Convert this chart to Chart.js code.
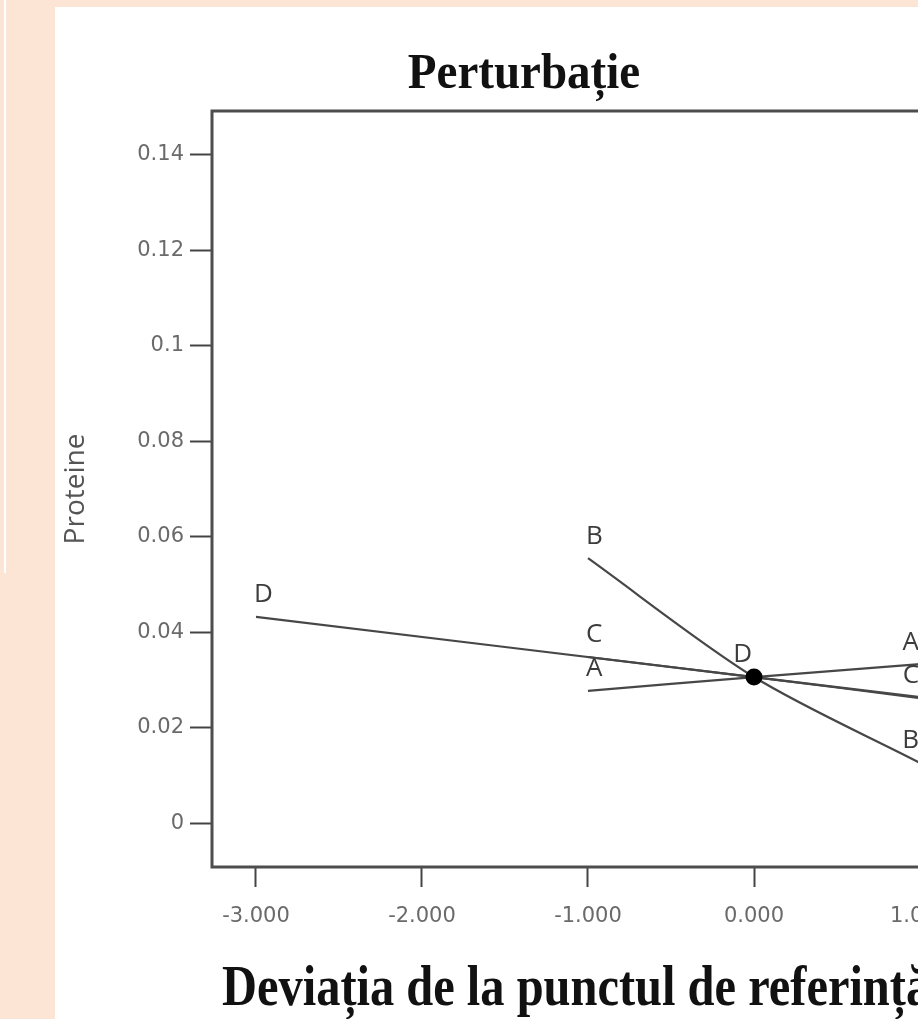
<!DOCTYPE html>
<html lang="ro">
<head>
<meta charset="utf-8">
<title>Perturbație</title>
<script src="https://cdn.jsdelivr.net/npm/chart.js@4/dist/chart.umd.min.js"></script>
<style>
    html, body { margin: 0; padding: 0; overflow: hidden; background: #fde5d6; }
    body { width: 918px; height: 1019px; position: relative; }
    #edge { position: absolute; left: 4px; top: 0; width: 2px; height: 573px; background: #fff; }
    #panel { position: absolute; left: 55px; top: 7px; width: 1400px; height: 1100px; background: #fff; }
    #wrap { position: absolute; left: 0; top: 0; width: 1340px; height: 1019px; }
</style>
</head>
<body>
<div id="edge"></div>
<div id="panel"></div>
<div id="wrap"><canvas id="chart" width="1340" height="1019"></canvas></div>
<script>
// Perturbation plot - Proteine vs deviation from the reference point

const factorNames = ['A', 'B', 'C', 'D'];
const devA = [-1, 0, 1];
const protA = [0.0277, 0.0306, 0.0333];
const devB = [-1, 0, 1];
const protB = [0.0555, 0.0306, 0.0126];
const devC = [-1, 0, 1];
const protC = [0.0348, 0.0306, 0.0262];
const devD = [-3, 0, 3];
const protD = [0.0432, 0.0306, 0.0180];
const refDev = [0];
const refProt = [0.0306];

const xTicks = [-3, -2, -1, 0, 1, 2, 3];
const xTickLabels = ['-3.000', '-2.000', '-1.000', '0.000', '1.000', '2.000', '3.000'];
const yTicks = [0, 0.02, 0.04, 0.06, 0.08, 0.1, 0.12, 0.14];
const yTickLabels = ['0', '0.02', '0.04', '0.06', '0.08', '0.1', '0.12', '0.14'];

const chartTitle = 'Perturbație';
const xTitle = 'Deviația de la punctul de referință';
const yTitle = 'Proteine';

const lineColor = '#474747';
const textColor = '#3c3c3c';

function toPoints(xs, ys) {
    return xs.map((x, i) => ({ x: x, y: ys[i] }));
}

function lineDataset(name, xs, ys) {
    return {
        label: name,
        type: 'line',
        data: toPoints(xs, ys),
        borderColor: lineColor,
        borderWidth: 2.2,
        pointRadius: 0,
        tension: 0.3,
        fill: false,
        order: 1
    };
}

function drawScaledText(ctx, text, x, y, font, scaleX, align) {
    ctx.save();
    ctx.font = font;
    ctx.fillStyle = '#111';
    ctx.textAlign = align;
    ctx.textBaseline = 'alphabetic';
    ctx.translate(x, y);
    ctx.scale(scaleX, 1);
    ctx.fillText(text, 0, 0);
    ctx.restore();
}

// rama, etichetele A-D si titlurile
const perturbPlugin = {
    id: 'perturb',
    afterDraw(chart) {
        const ctx = chart.ctx;
        const area = chart.chartArea;
        const xs = chart.scales.x;
        const ys = chart.scales.y;

        ctx.save();
        ctx.strokeStyle = '#4d4d4d';
        ctx.lineWidth = 3;
        ctx.strokeRect(area.left, area.top, area.right - area.left, area.bottom - area.top);

        ctx.font = '26px "Open Sans"';
        ctx.fillStyle = textColor;
        ctx.textBaseline = 'bottom';
        chart.data.datasets.forEach(ds => {
            if (ds.type !== 'line') return;
            const first = ds.data[0];
            const last = ds.data[ds.data.length - 1];
            ctx.textAlign = 'left';
            ctx.fillText(ds.label, xs.getPixelForValue(first.x) - 2, ys.getPixelForValue(first.y) - 9);
            ctx.textAlign = 'right';
            ctx.fillText(ds.label, xs.getPixelForValue(last.x) - 1, ys.getPixelForValue(last.y) - 9);
        });
        // eticheta D langa punctul de referinta
        ctx.textAlign = 'right';
        ctx.fillText(factorNames[3], xs.getPixelForValue(refDev[0]) - 2, ys.getPixelForValue(refProt[0]) - 9);
        ctx.restore();

        drawScaledText(ctx, chartTitle, 524, 88, 'bold 50px "Liberation Serif"', 0.94, 'center');
        drawScaledText(ctx, xTitle, 222, 1005, 'bold 56px "Liberation Serif"', 0.865, 'left');
    }
};

const tickFont = { family: 'DejaVu Sans', size: 21 };

new Chart(document.getElementById('chart').getContext('2d'), {
    data: {
        datasets: [
            {
                label: 'ref',
                type: 'scatter',
                data: toPoints(refDev, refProt),
                backgroundColor: '#000',
                borderWidth: 0,
                pointRadius: 8.5,
                order: 0
            },
            lineDataset(factorNames[0], devA, protA),
            lineDataset(factorNames[1], devB, protB),
            lineDataset(factorNames[2], devC, protC),
            lineDataset(factorNames[3], devD, protD)
        ]
    },
    options: {
        responsive: false,
        animation: false,
        layout: { padding: { left: 55, top: 111, right: 44, bottom: 0 }, autoPadding: false },
        plugins: {
            legend: { display: false },
            tooltip: { enabled: false },
            title: { display: false }
        },
        scales: {
            x: {
                type: 'linear',
                min: -3.265,
                max: 3.265,
                afterFit(scale) { scale.height = 152; },
                afterBuildTicks(scale) { scale.ticks = xTicks.map(v => ({ value: v })); },
                ticks: {
                    callback: (v, i) => xTickLabels[i],
                    font: tickFont,
                    color: '#6a6a6a',
                    padding: 17,
                    maxRotation: 0,
                    autoSkip: false
                },
                grid: { drawOnChartArea: false, drawTicks: true, tickLength: 20, tickColor: '#444', tickWidth: 2 },
                border: { display: false }
            },
            y: {
                type: 'linear',
                min: -0.0092,
                max: 0.1492,
                afterFit(scale) { scale.width = 157; },
                afterBuildTicks(scale) { scale.ticks = yTicks.map(v => ({ value: v })); },
                ticks: {
                    callback: (v, i) => yTickLabels[i],
                    font: tickFont,
                    color: '#6a6a6a',
                    padding: 6,
                    autoSkip: false
                },
                grid: { drawOnChartArea: false, drawTicks: true, tickLength: 22, tickColor: '#444', tickWidth: 2 },
                border: { display: false },
                title: {
                    display: true,
                    text: yTitle,
                    font: { family: 'Open Sans', size: 28 },
                    color: '#555',
                    padding: { top: 4, bottom: 0 }
                }
            }
        }
    },
    plugins: [perturbPlugin]
});
</script>
</body>
</html>
